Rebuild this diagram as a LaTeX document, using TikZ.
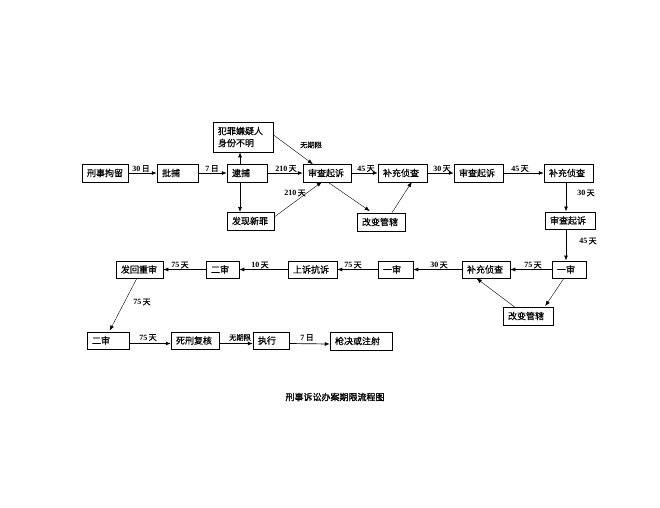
\documentclass[tikz,border=0pt]{standalone}
\usepackage{fontspec}
\setmainfont{Liberation Serif}
\newfontfamily\cjk[FakeBold=0.6]{Noto Sans CJK SC}
\newfontfamily\cjkb[FakeBold=1.5]{Noto Sans CJK SC}
\usetikzlibrary{arrows.meta,calc}
\newcommand\lbl[2]{\textbf{#1}\,{\cjk #2}}
\begin{document}
\begin{tikzpicture}[x=1pt,y=-1pt,
  box/.style={draw, line width=0.5pt, inner xsep=5pt, inner ysep=0pt,
    minimum height=17.5pt, align=left, font=\cjk\fontsize{9}{11}\selectfont},
  arr/.style={draw, line width=0.7pt, -{Latex[length=5pt,width=4pt]}},
  thin arr/.style={draw, line width=0.4pt, -{Latex[length=5pt,width=4pt]}},
  lab/.style={inner sep=0.5pt, font=\fontsize{8}{9}\selectfont},
  slab/.style={inner sep=0.5pt, font=\cjk\fontsize{7.2}{8}\selectfont}]
\useasboundingbox (0,0) rectangle (660,507);
\fill[white] (0,0) rectangle (660,507);
% row 1
\node[box, text width=36pt] (jl)  at (105,173)   {刑事拘留};
\node[box, text width=31pt] (pb)  at (177.5,173) {批捕};
\node[box, text width=30pt] (db)  at (247,173)   {逮捕};
\node[box, text width=50pt, minimum height=30pt, font=\cjk\fontsize{9}{12}\selectfont] (xr) at (243,137) {犯罪嫌疑人\\身份不明};
\node[box, text width=37pt] (fx)  at (250.5,221) {发现新罪};
\node[box, text width=38pt] (sc1) at (327,173)   {审查起诉};
\node[box, text width=39pt] (bc1) at (402.5,173) {补充侦查};
\node[box, text width=38pt] (gb1) at (381,222)   {改变管辖};
\node[box, text width=39pt] (sc2) at (478.5,173) {审查起诉};
\node[box, text width=39pt] (bc2) at (568.5,173) {补充侦查};
\node[box, text width=40pt] (sc3) at (570,220.5) {审查起诉};
% row 3
\node[box, text width=24pt] (ys1) at (569,269.5) {一审};
\node[box, text width=38pt] (bc3) at (486,269.5) {补充侦查};
\node[box, text width=40pt] (gb2) at (528,316)   {改变管辖};
\node[box, text width=25pt] (ys2) at (395.5,269.5) {一审};
\node[box, text width=39pt] (ss)  at (312.5,269.5) {上诉抗诉};
\node[box, text width=23pt] (es)  at (222.5,269.5) {二审};
\node[box, text width=37pt] (fh)  at (139.5,269.5) {发回重审};
% bottom row
\node[box, text width=32pt] (es2) at (108,340.5) {二审};
\node[box, text width=38pt] (sx)  at (195,340.5) {死刑复核};
\node[box, text width=26pt] (zx)  at (271,340.5) {执行};
\node[box, text width=52pt] (qj)  at (361,341)   {枪决或注射};
% caption
\node[font=\cjkb\fontsize{9}{11}\selectfont] (cap) at (335,397) {刑事诉讼办案期限流程图};
% helper coordinates
\coordinate (vx) at (240,0);
\coordinate (vr) at (566,0);
% row 1 connectors
\path[arr] (jl.east) -- (pb.west);
\path[arr] (pb.east) -- (db.west);
\path[arr] (db.east) -- (sc1.west);
\path[arr] (vx |- db.north) -- (vx |- xr.south);
\path[arr] (vx |- db.south) -- (vx |- fx.north);
\path[thin arr] ($(xr.north east)+(0,13)$) -- ($(sc1.north west)+(10,0)$);
\path[thin arr] ($(fx.north east)+(0,5)$) -- ($(sc1.south west)+(19,0)$);
\path[arr] (sc1.east) -- (bc1.west);
\path[arr] (bc1.east) -- (sc2.west);
\path[arr] (sc2.east) -- (bc2.west);
\path[thin arr] ($(sc1.south west)+(25,0)$) -- ($(gb1.north west)+(13,-2)$);
\path[thin arr] ($(gb1.north west)+(35,0)$) -- ($(bc1.south west)+(34,0)$);
\path[arr] (vr |- bc2.south) -- (vr |- sc3.north);
\path[arr] (vr |- sc3.south) -- (vr |- ys1.north);
% row 3 connectors
\path[arr] (ys1.west) -- (bc3.east);
\path[arr] (bc3.west) -- (ys2.east);
\path[arr] (ys2.west) -- (ss.east);
\path[arr] (ss.west) -- (es.east);
\path[arr] (es.west) -- (fh.east);
\path[thin arr] ($(ys1.south west)+(12,0)$) -- ($(gb2.north east)+(-8,-1)$);
\path[thin arr] ($(gb2.north west)+(12,0)$) -- ($(bc3.south west)+(15,0)$);
\path[thin arr] ($(fh.south west)+(21,0)$) -- ($(es2.north west)+(23,-1)$);
% bottom row connectors
\path[arr] ([yshift=-3pt]es2.east) -- ([yshift=-3pt]sx.west);
\path[arr] ([yshift=-3pt]sx.east) -- ([yshift=-3pt]zx.west);
\path[arr] ([yshift=-3pt]zx.east) -- ([yshift=-3pt]qj.west);
% labels
\node[lab] (l1)  at (141,168.5) {\lbl{30}{日}};
\node[lab] (l2)  at (212,168.5) {\lbl{7}{日}};
\node[lab] (l3)  at (286,168.5) {\lbl{210}{天}};
\node[slab] (l4) at (311,145)   {无期限};
\node[lab] (l5)  at (295,193)   {\lbl{210}{天}};
\node[lab] (l6)  at (366,168.5) {\lbl{45}{天}};
\node[lab] (l7)  at (442,168.5) {\lbl{30}{天}};
\node[lab] (l8)  at (520,168.5) {\lbl{45}{天}};
\node[lab] (l9)  at (586,193)   {\lbl{30}{天}};
\node[lab] (l10) at (588,241)   {\lbl{45}{天}};
\node[lab] (l11) at (533,265)   {\lbl{75}{天}};
\node[lab] (l12) at (439,265)   {\lbl{30}{天}};
\node[lab] (l13) at (353,265)   {\lbl{75}{天}};
\node[lab] (l14) at (260,265)   {\lbl{10}{天}};
\node[lab] (l15) at (180,265)   {\lbl{75}{天}};
\node[lab] (l16) at (142,302)   {\lbl{75}{天}};
\node[lab] (l17) at (148,337.5) {\lbl{75}{天}};
\node[slab] (l18) at (240,337.5) {无期限};
\node[lab] (l19) at (307,337.5) {\lbl{7}{日}};
\end{tikzpicture}
\end{document}
